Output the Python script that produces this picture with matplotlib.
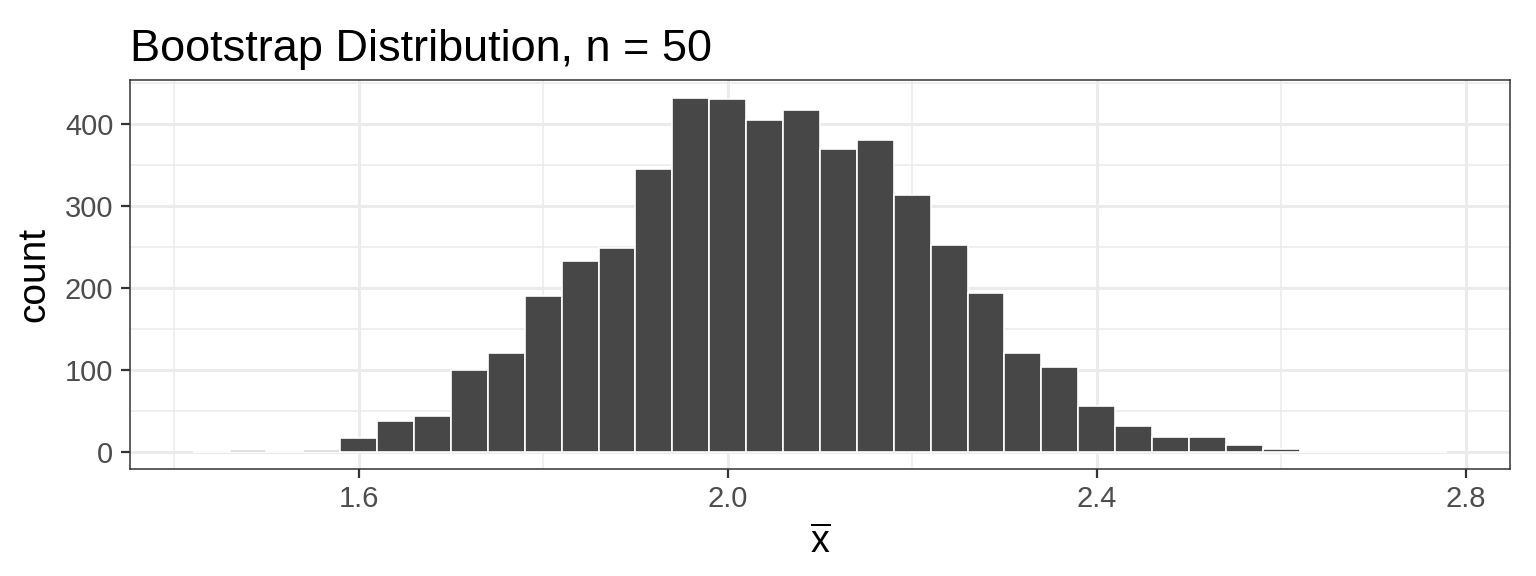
import numpy as np
import matplotlib.pyplot as plt
from matplotlib.ticker import MultipleLocator

plt.rcParams['font.family'] = ['Liberation Sans', 'DejaVu Sans']
plt.rcParams['mathtext.fontset'] = 'custom'
plt.rcParams['mathtext.rm'] = 'Liberation Sans'
plt.rcParams['mathtext.it'] = 'Liberation Sans'

# bootstrap means, binned with width 0.04 (bin centres)
bin_centers = np.round(np.arange(1.44, 2.77, 0.04), 2)
counts = [0, 2, 0, 2, 17, 37, 44, 100, 120, 190, 233, 249, 345, 432, 430,
          405, 417, 370, 380, 313, 252, 194, 121, 104, 56, 31, 18, 18, 8, 3,
          0, 0, 0, 0]
binwidth = 0.04

fig = plt.figure(figsize=(15.36, 5.76), dpi=100)
ax = fig.add_axes([0.0846, 0.185, 0.8984, 0.676])

ax.bar(bin_centers, counts, width=binwidth, color='#474747',
       edgecolor='white', linewidth=1.2, zorder=3)

ax.set_xlim(1.352, 2.848)
ax.set_ylim(-21.6, 453.6)

ax.xaxis.set_major_locator(MultipleLocator(0.4))
ax.xaxis.set_minor_locator(MultipleLocator(0.2))
ax.yaxis.set_major_locator(MultipleLocator(100))
ax.yaxis.set_minor_locator(MultipleLocator(50))
ax.set_xticks([1.6, 2.0, 2.4, 2.8])
ax.set_xticklabels(['1.6', '2.0', '2.4', '2.8'])

ax.grid(which='major', color='#EBEBEB', linewidth=2.2, zorder=0)
ax.grid(which='minor', color='#EBEBEB', linewidth=1.1, zorder=0)
ax.set_axisbelow(True)

for s in ax.spines.values():
    s.set_color('#333333')
    s.set_linewidth(1.1)

ax.tick_params(which='major', length=6.5, width=1.6, color='#333333',
               labelsize=21, labelcolor='#4D4D4D')
ax.tick_params(axis='y', pad=5.5)
ax.tick_params(axis='x', pad=5)
ax.tick_params(which='minor', length=0)

ax.set_xlabel(r'$\overline{\mathrm{x}}$', fontsize=27, labelpad=8)
ax.set_ylabel('count', fontsize=28, labelpad=9)
ax.set_title('Bootstrap Distribution, n = 50', loc='left', fontsize=32.5, pad=14)

fig.savefig('out.png', dpi=100)
